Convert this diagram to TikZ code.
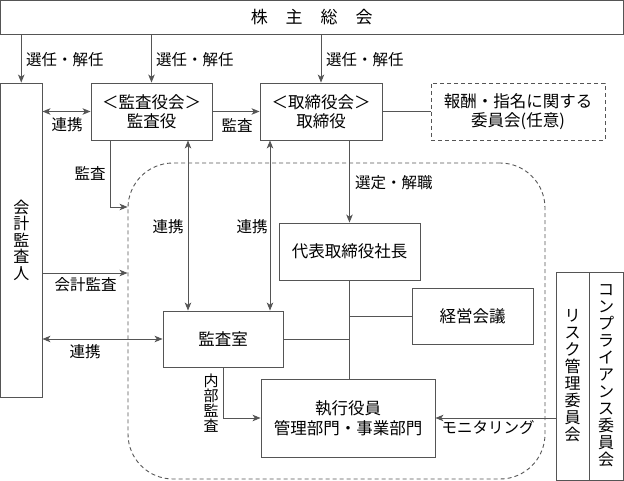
\documentclass[tikz,border=0pt]{standalone}
\usepackage{fontspec}
\newfontfamily\jp{Noto Sans CJK JP}
\usetikzlibrary{arrows.meta}
\definecolor{lc}{RGB}{85,85,85}
\begin{document}
\begin{tikzpicture}[x=1pt,y=-1pt,
  ln/.style={draw=lc, line width=0.9pt},
  box/.style={draw=lc, line width=0.9pt, fill=white, inner sep=0pt, align=center, font=\jp\fontsize{16.5}{19.5}\selectfont},
  lbl/.style={inner sep=0pt, font=\jp\fontsize{15.5}{17}\selectfont},
  arr/.style={draw=lc, line width=0.9pt, -{Stealth[length=8pt,width=6.5pt,inset=2.2pt]}},
  darr/.style={draw=lc, line width=0.9pt, {Stealth[length=8pt,width=6.5pt,inset=2.2pt]}-{Stealth[length=8pt,width=6.5pt,inset=2.2pt]}},
  dsh/.style={dash pattern=on 4pt off 3pt}
]
\useasboundingbox (0,0) rectangle (624,481);
\fill[white] (0,0) rectangle (624,481);

% dashed region
\node[draw=lc, line width=0.9pt, dsh, rounded corners=45pt, minimum width=417pt, minimum height=316pt, inner sep=0pt] (region) at (336.5,321) {};

% boxes
\node[box, minimum width=622.5pt, minimum height=33.5pt, font=\jp\fontsize{17}{19}\selectfont] (soukai) at (311.75,17.25) {株\hspace{18pt}主\hspace{18pt}総\hspace{18pt}会};
\node[box, minimum width=41.5pt, minimum height=314pt, font=\jp\fontsize{16}{16.5}\selectfont] (kaikei) at (21.25,240) {会\\計\\監\\査\\人};
\node[box, minimum width=121pt, minimum height=57pt] (kansayaku) at (151.5,111.5) {＜監査役会＞\\監査役};
\node[box, minimum width=122pt, minimum height=57pt] (torishimari) at (321,111.5) {＜取締役会＞\\取締役};
\node[box, dsh, minimum width=174pt, minimum height=57pt] (houshu) at (518,111.5) {報酬・指名に関する\\委員会(任意)};
\node[box, minimum width=141pt, minimum height=57pt] (daihyo) at (349.5,251.5) {代表取締役社長};
\node[box, minimum width=121pt, minimum height=56pt] (keiei) at (472.5,316) {経営会議};
\node[box, minimum width=120pt, minimum height=56pt] (kansashitsu) at (223,339) {監査室};
\node[box, minimum width=174pt, minimum height=78pt] (shikko) at (348,418) {執行役員\\管理部門・事業部門};
\node[box, minimum width=33pt, minimum height=208pt, font=\jp\fontsize{16}{17}\selectfont] (risk) at (572.5,376) {リ\\ス\\ク\\管\\理\\委\\員\\会};
\node[box, minimum width=34pt, minimum height=208pt, font=\jp\fontsize{16}{17}\selectfont] (comp) at (606,376) {コ\\ン\\プ\\ラ\\イ\\ア\\ン\\ス\\委\\員\\会};

% helper coordinates
\coordinate (kb) at (110,207);
\coordinate (ka) at (0,273);
\coordinate (r1) at (188,0);
\coordinate (r2) at (270,0);
\coordinate (nb) at (223,418);

% connectors
\draw[arr] (kaikei.north |- soukai.south) -- (kaikei.north);
\draw[arr] (kansayaku.north |- soukai.south) -- (kansayaku.north);
\draw[arr] (torishimari.north |- soukai.south) -- (torishimari.north);
\draw[darr] (kaikei.east |- kansayaku.west) -- (kansayaku.west);
\draw[arr] (kansayaku.east) -- (torishimari.west);
\draw[ln] (torishimari.east) -- (houshu.west);
\draw[arr] (kansayaku.south -| kb) -- (kb) -- (region.west |- kb);
\draw[arr] (kaikei.east |- ka) -- (region.west |- ka);
\draw[darr] (kansayaku.south -| r1) -- (kansashitsu.north -| r1);
\draw[darr] (torishimari.south -| r2) -- (kansashitsu.north -| r2);
\draw[arr] (daihyo.north |- torishimari.south) -- (daihyo.north);
\draw[ln] (daihyo.south) -- (daihyo.south |- shikko.north);
\draw[ln] (daihyo.south |- keiei.west) -- (keiei.west);
\draw[ln] (kansashitsu.east) -- (daihyo.south |- kansashitsu.east);
\draw[darr] (kaikei.east |- kansashitsu.west) -- (kansashitsu.west);
\draw[arr] (kansashitsu.south -| nb) -- (nb) -- (shikko.west |- nb);
\draw[arr] (risk.west |- shikko.east) -- (shikko.east);

% labels
\node[lbl, anchor=west] (l1) at (26,60) {選任・解任};
\node[lbl, anchor=west] (l2) at (156,60) {選任・解任};
\node[lbl, anchor=west] (l3) at (326,60) {選任・解任};
\node[lbl] (l4) at (67,125) {連携};
\node[lbl] (l5) at (237,125) {監査};
\node[lbl] (l6) at (90,173) {監査};
\node[lbl] (l7) at (168,227) {連携};
\node[lbl] (l8) at (252,227) {連携};
\node[lbl, anchor=west] (l9) at (355,183) {選定・解職};
\node[lbl] (l10) at (85.5,285) {会計監査};
\node[lbl] (l11) at (85,352) {連携};
\node[lbl] (l12) at (488,428) {モニタリング};
\node[lbl, align=center, font=\jp\fontsize{15}{15}\selectfont] (l13) at (211,403) {内\\部\\監\\査};
\end{tikzpicture}
\end{document}
